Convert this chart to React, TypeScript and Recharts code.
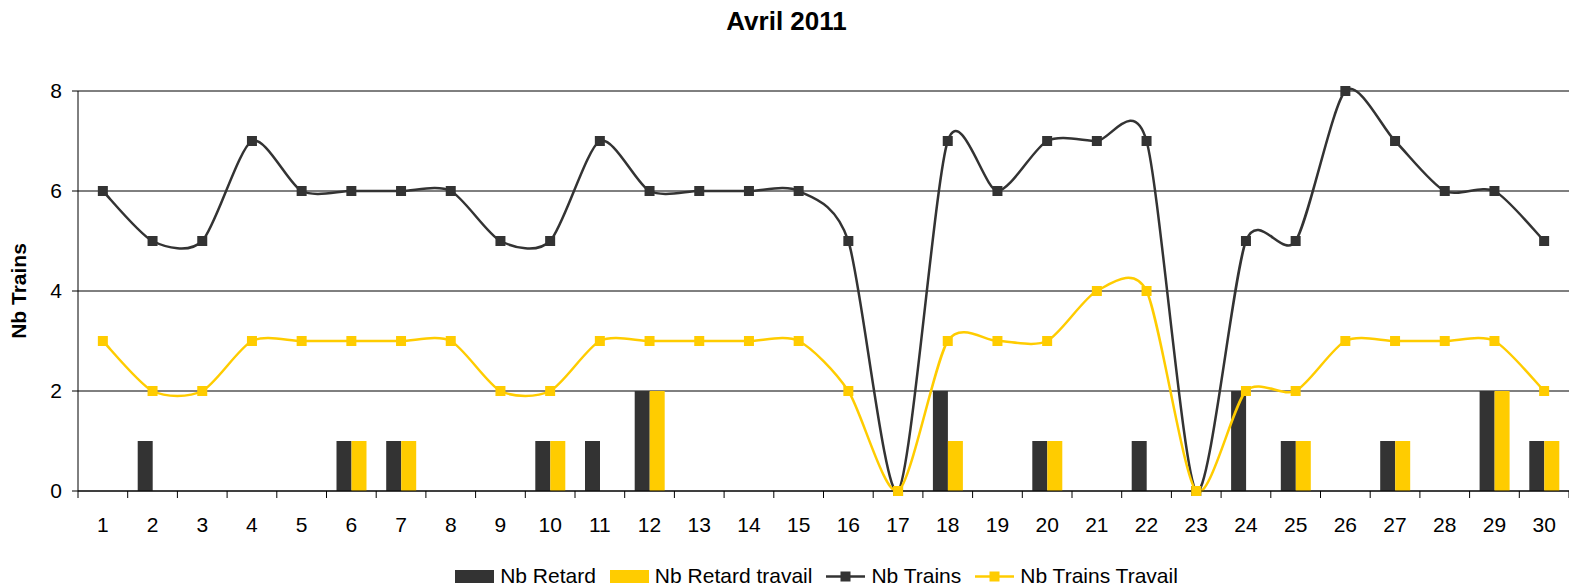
import { Bar, CartesianGrid, ComposedChart, Line, XAxis, YAxis } from "recharts";

const days = Array.from({ length: 30 }, (_, i) => String(i + 1));
const nbRetard = [0, 1, 0, 0, 0, 1, 1, 0, 0, 1, 1, 2, 0, 0, 0, 0, 0, 2, 0, 1, 0, 1, 0, 2, 1, 0, 1, 0, 2, 1];
const nbRetardTravail = [0, 0, 0, 0, 0, 1, 1, 0, 0, 1, 0, 2, 0, 0, 0, 0, 0, 1, 0, 1, 0, 0, 0, 0, 1, 0, 1, 0, 2, 1];
const nbTrains = [6, 5, 5, 7, 6, 6, 6, 6, 5, 5, 7, 6, 6, 6, 6, 5, 0, 7, 6, 7, 7, 7, 0, 5, 5, 8, 7, 6, 6, 5];
const nbTrainsTravail = [3, 2, 2, 3, 3, 3, 3, 3, 2, 2, 3, 3, 3, 3, 3, 2, 0, 3, 3, 3, 4, 4, 0, 2, 2, 3, 3, 3, 3, 2];
const yTicks = [0, 2, 4, 6, 8];

const data = days.map((day, i) => ({
  day,
  retard: nbRetard[i],
  retardTravail: nbRetardTravail[i],
  trains: nbTrains[i],
  trainsTravail: nbTrainsTravail[i],
}));

const DARK = "#333333";
const YELLOW = "#FFCC00";
const FONT = "'Liberation Sans', Arial, sans-serif";

const WIDTH = 1569;
const HEIGHT = 586;
const Y_AXIS_W = 78;
const PLOT_W = WIDTH - Y_AXIS_W;
const HALF_BAND = PLOT_W / days.length / 2;

// Excel-like smoothed line (cardinal spline through the points)
function excelCurve(context: any) {
  let pts: [number, number][] = [];
  return {
    areaStart() {},
    areaEnd() {},
    lineStart() {
      pts = [];
    },
    point(x: number, y: number) {
      pts.push([+x, +y]);
    },
    lineEnd() {
      const n = pts.length;
      if (!n) return;
      context.moveTo(pts[0][0], pts[0][1]);
      const k = 0.13;
      for (let i = 0; i < n - 1; i++) {
        const p0 = pts[i - 1] ?? pts[i];
        const p1 = pts[i];
        const p2 = pts[i + 1];
        const p3 = pts[i + 2] ?? p2;
        context.bezierCurveTo(
          p1[0] + (p2[0] - p0[0]) * k,
          p1[1] + (p2[1] - p0[1]) * k,
          p2[0] - (p3[0] - p1[0]) * k,
          p2[1] - (p3[1] - p1[1]) * k,
          p2[0],
          p2[1]
        );
      }
    },
  };
}

function squareDot(color: string) {
  return (props: any) => (
    <rect key={`d-${props.index}`} x={props.cx - 5} y={props.cy - 5} width={10} height={10} fill={color} />
  );
}

function DayTick(props: any) {
  const { x, y, payload, index } = props;
  const axisY = y - 7;
  const last = index === days.length - 1;
  return (
    <g>
      <line x1={x - HALF_BAND} x2={x - HALF_BAND} y1={axisY} y2={axisY + 7} stroke="#000" />
      {last && <line x1={x + HALF_BAND} x2={x + HALF_BAND} y1={axisY} y2={axisY + 7} stroke="#000" />}
      <text x={x} y={axisY + 41} textAnchor="middle" fill="#000" fontSize={21} fontFamily={FONT}>
        {payload.value}
      </text>
    </g>
  );
}

const legendItems = [
  { label: "Nb Retard", color: DARK, kind: "bar" },
  { label: "Nb Retard travail", color: YELLOW, kind: "bar" },
  { label: "Nb Trains", color: DARK, kind: "line" },
  { label: "Nb Trains Travail", color: YELLOW, kind: "line" },
];

export default function App() {
  return (
    <div style={{ position: "relative", width: WIDTH, height: HEIGHT, fontFamily: FONT, background: "#fff" }}>
      <style>{"body{margin:0}"}</style>
      <div
        style={{
          position: "absolute",
          top: 6,
          left: 2,
          width: WIDTH,
          textAlign: "center",
          fontSize: 26,
          fontWeight: "bold",
          lineHeight: "30px",
        }}
      >
        Avril 2011
      </div>
      <div
        style={{
          position: "absolute",
          left: 19,
          top: 291,
          transform: "translate(-50%, -50%) rotate(-90deg)",
          fontSize: 21,
          fontWeight: "bold",
          whiteSpace: "nowrap",
        }}
      >
        Nb Trains
      </div>
      <ComposedChart
        width={WIDTH}
        height={HEIGHT}
        data={data}
        margin={{ top: 91, right: 0, bottom: 45, left: 0 }}
        barGap={0}
        style={{ position: "absolute", top: 0, left: 0 }}
      >
        <CartesianGrid vertical={false} stroke="#000" />
        <XAxis
          dataKey="day"
          height={50}
          interval={0}
          tickLine={false}
          tickSize={7}
          tickMargin={0}
          axisLine={{ stroke: "#000" }}
          tick={<DayTick />}
        />
        <YAxis
          width={Y_AXIS_W}
          domain={[0, 8]}
          ticks={yTicks}
          interval={0}
          tickSize={6}
          tickMargin={10}
          axisLine={{ stroke: "#000" }}
          tickLine={{ stroke: "#000" }}
          tick={{ fill: "#000", fontSize: 21, fontFamily: FONT }}
        />
        <Bar dataKey="retard" fill={DARK} barSize={15} isAnimationActive={false} />
        <Bar dataKey="retardTravail" fill={YELLOW} barSize={15} isAnimationActive={false} />
        <Line
          dataKey="trains"
          type={excelCurve as any}
          stroke={DARK}
          strokeWidth={2.5}
          dot={squareDot(DARK)}
          activeDot={false}
          isAnimationActive={false}
        />
        <Line
          dataKey="trainsTravail"
          type={excelCurve as any}
          stroke={YELLOW}
          strokeWidth={2.5}
          dot={squareDot(YELLOW)}
          activeDot={false}
          isAnimationActive={false}
        />
      </ComposedChart>
      <div
        style={{
          position: "absolute",
          top: 563,
          left: Y_AXIS_W,
          width: PLOT_W,
          display: "flex",
          justifyContent: "center",
          alignItems: "center",
          fontSize: 21,
          lineHeight: "26px",
        }}
      >
        {legendItems.map((item) => (
          <div key={item.label} style={{ display: "flex", alignItems: "center", marginRight: 14 }}>
            {item.kind === "bar" ? (
              <div style={{ width: 39, height: 13, background: item.color }} />
            ) : (
              <svg width={39} height={13}>
                <line x1={0} x2={39} y1={6.5} y2={6.5} stroke={item.color} strokeWidth={2.5} />
                <rect x={14.5} y={1.5} width={10} height={10} fill={item.color} />
              </svg>
            )}
            <span style={{ marginLeft: 6 }}>{item.label}</span>
          </div>
        ))}
      </div>
    </div>
  );
}
